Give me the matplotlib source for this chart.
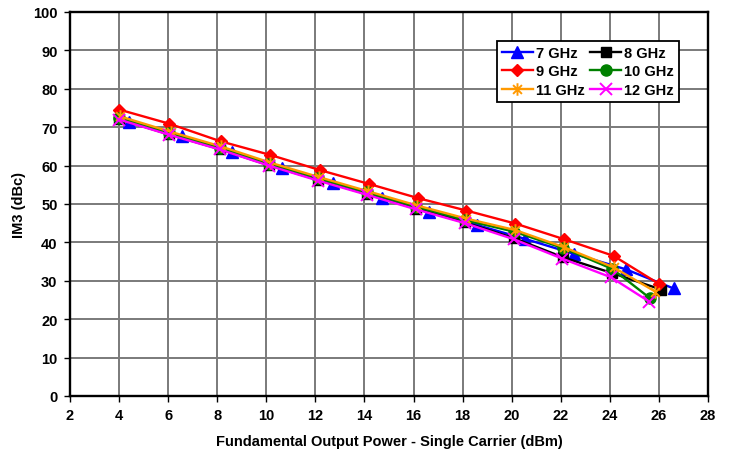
import matplotlib
matplotlib.use("Agg")
import matplotlib.pyplot as plt
from matplotlib.path import Path

plt.rcParams['font.family'] = ['Liberation Sans', 'DejaVu Sans']
plt.rcParams['font.weight'] = 'bold'

# Measured IM3 vs fundamental output power, per carrier frequency
x_7 = [4.4, 6.55, 8.6, 10.65, 12.7, 14.7, 16.65, 18.6, 20.55, 22.55, 24.65, 26.6]
y_7 = [71.3, 67.6, 63.5, 59.4, 55.5, 51.5, 48.0, 44.5, 40.9, 37.0, 33.0, 28.0]

x_8 = [4.0, 6.05, 8.1, 10.1, 12.1, 14.1, 16.1, 18.1, 20.1, 22.1, 24.1, 26.1]
y_8 = [72.1, 68.1, 64.3, 60.1, 56.3, 52.6, 48.8, 45.2, 41.1, 36.1, 32.0, 27.7]

x_9 = [4.0, 6.05, 8.15, 10.15, 12.2, 14.2, 16.2, 18.15, 20.15, 22.15, 24.15, 26.0]
y_9 = [74.6, 70.9, 66.3, 62.8, 58.8, 55.2, 51.5, 48.3, 44.9, 40.8, 36.5, 29.2]

x_10 = [4.0, 6.05, 8.1, 10.1, 12.1, 14.1, 16.1, 18.1, 20.1, 22.1, 24.1, 25.65]
y_10 = [72.5, 68.5, 64.6, 60.5, 56.7, 53.0, 49.3, 45.8, 42.8, 38.5, 33.1, 25.4]

x_11 = [4.05, 6.1, 8.15, 10.15, 12.15, 14.15, 16.15, 18.15, 20.15, 22.15, 24.15, 25.85]
y_11 = [72.8, 68.8, 65.0, 60.8, 57.0, 53.3, 49.6, 46.2, 43.2, 38.7, 33.5, 27.2]

x_12 = [4.0, 6.05, 8.1, 10.1, 12.1, 14.1, 16.1, 18.1, 20.1, 22.05, 24.05, 25.6]
y_12 = [72.0, 68.0, 64.2, 60.0, 56.1, 52.4, 48.6, 45.0, 40.8, 35.8, 30.9, 24.6]

labels = ['7 GHz', '8 GHz', '9 GHz', '10 GHz', '11 GHz', '12 GHz']

x_ticks = list(range(2, 29, 2))
y_ticks = list(range(0, 101, 10))

# asterisk marker: vertical stroke plus an x
asterisk = Path(
    [(0, -1), (0, 1), (-0.707, -0.707), (0.707, 0.707), (-0.707, 0.707), (0.707, -0.707)],
    [Path.MOVETO, Path.LINETO, Path.MOVETO, Path.LINETO, Path.MOVETO, Path.LINETO],
)

fig = plt.figure(figsize=(7.34, 4.56), dpi=100)
ax = fig.add_axes([70 / 734, 1 - 397 / 456, 638 / 734, 384 / 456])

lw = 1.7
h7, = ax.plot(x_7, y_7, color='#0000FF', lw=lw, marker='^', ms=9, label=labels[0])
h8, = ax.plot(x_8, y_8, color='#000000', lw=lw, marker='s', ms=7.5, label=labels[1])
h9, = ax.plot(x_9, y_9, color='#FF0000', lw=lw, marker='D', ms=6.5, label=labels[2])
h10, = ax.plot(x_10, y_10, color='#008000', lw=lw, marker='o', ms=8, label=labels[3])
h11, = ax.plot(x_11, y_11, color='#FF9900', lw=lw, marker=asterisk, ms=9, mew=1.4, label=labels[4])
h12, = ax.plot(x_12, y_12, color='#FF00FF', lw=lw, marker='x', ms=8, mew=1.4, label=labels[5])

ax.set_xlim(2, 28)
ax.set_ylim(0, 100)
ax.set_xticks(x_ticks)
ax.set_yticks(y_ticks)
ax.tick_params(axis='both', direction='out', length=4, width=1, labelsize=10.5, pad=5)
for lab in ax.get_xticklabels() + ax.get_yticklabels():
    lab.set_fontweight('bold')

ax.grid(True, color='#7a7a7a', lw=1.4)
ax.set_axisbelow(True)
for s in ax.spines.values():
    s.set_linewidth(1.7)
    s.set_color('black')

ax.set_xlabel('Fundamental Output Power - Single Carrier (dBm)', fontsize=10.5, fontweight='bold', labelpad=8)
ax.set_ylabel('IM3 (dBc)', fontsize=10.5, fontweight='bold', labelpad=5)

# legend filled row by row: 7/8, 9/10, 11/12
handles = [h7, h9, h11, h8, h10, h12]
leg = ax.legend(handles, [h.get_label() for h in handles], ncol=2, loc='upper left',
                bbox_to_anchor=(427 / 638, 1 - 29 / 384),
                frameon=True, fancybox=False, edgecolor='black', framealpha=1,
                prop={'weight': 'bold', 'size': 10.5}, handlelength=2.1, handletextpad=0.2,
                columnspacing=0.4, labelspacing=0.3, borderpad=0.35, borderaxespad=0)
leg.get_frame().set_linewidth(1.3)

fig.savefig('out.png', dpi=100, facecolor='white')
